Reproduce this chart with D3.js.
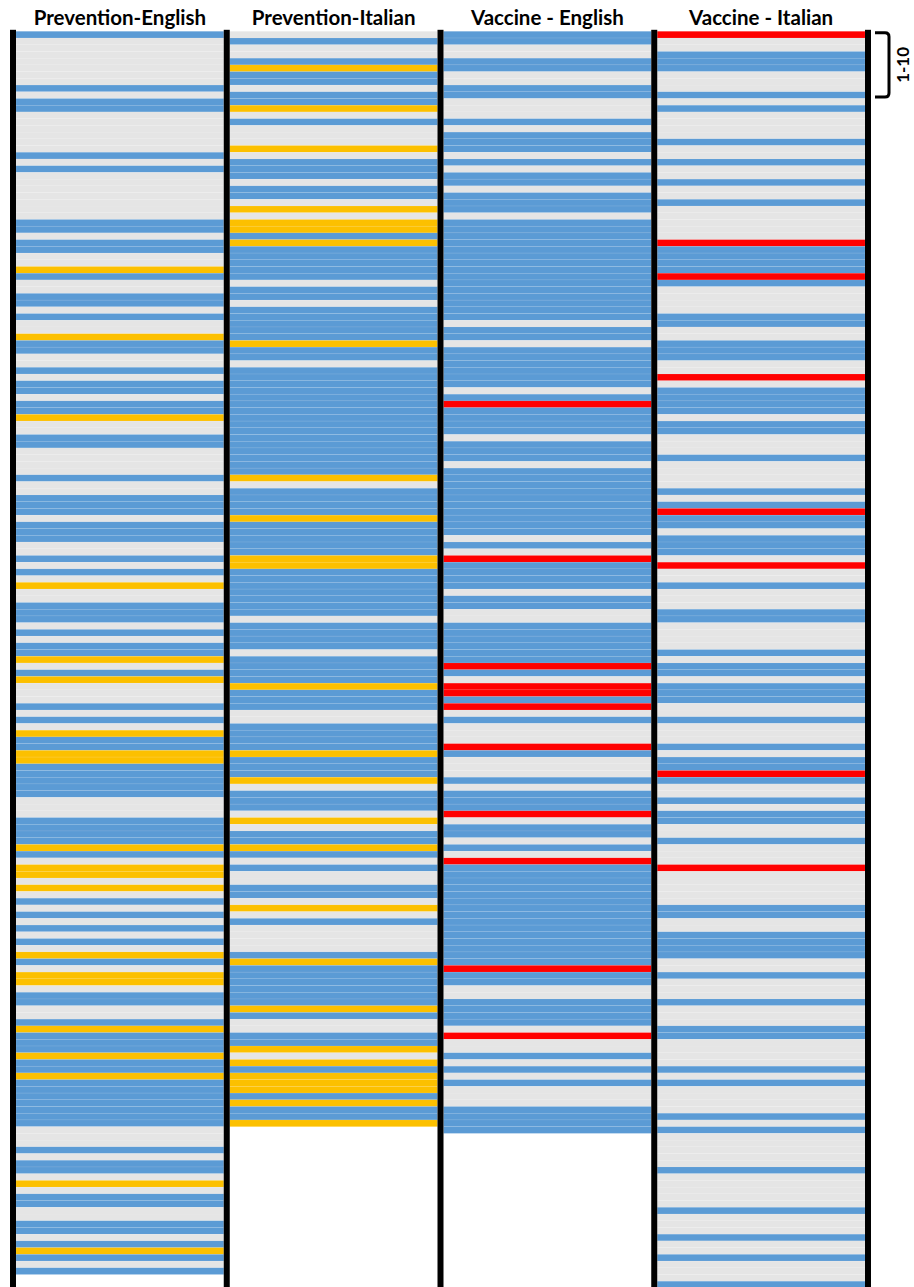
<!DOCTYPE html>
<html>
<head>
<meta charset="utf-8">
<script src="https://cdn.jsdelivr.net/npm/d3@7"></script>
<style>
  body { margin: 0; background: #fff; }
  svg { display: block; }
</style>
</head>
<body>
<div class="stripes"></div>
<script>
// one letter per row, top to bottom: g = grey, b = blue, y = yellow, r = red
const columnTitles = ["Prevention-English", "Prevention-Italian", "Vaccine - English", "Vaccine - Italian"];
const categoryCodes = ["g", "b", "y", "r"];

const preventionEnglish = [
  "bgggggggbg", "bbggggggbg", "bgggggggbb", "gbbggybggb", "bgbggybbgg",
  "bgbbgbbygg", "bbggggbggb", "bbgbbbggbg", "bgyggbbbgb", "gbbygbyggg",
  "bgbgybbyyb", "bbbbgggbbb", "bybgyygygb", "gbgbgbgybg", "yygbbggbyb",
  "bbybbybbbb", "bbbgggbgbb", "gygbbggbbg", "bybgb"
].join("");

const preventionItalian = [
  "gbggbybbgb", "bygbgggygb", "bbgbbgygyy", "bybbbbbgbb", "gbbbbbybbg",
  "bbbbbbbbbb", "bbbbbbygbb", "bbybbbbbyy", "bbbbbbbgbb", "bbgbbbbybb",
  "bggbbbbybb", "bygbbbgygb", "bybgbggbbg", "ygbggggbyb", "bbbbbybggb",
  "bygybyyyby", "bby"
].join("");

const vaccineEnglish = [
  "bbggbbggbb", "gggbgbbbgb", "gbbgbbbgbb", "bbbbbbbbbb", "bbbgbbgbbb",
  "bbbgbrbbbb", "gbbbgbbbbb", "bbbbbgbgrb", "bbbgbbggbb", "bbbbrbgrrb",
  "rgbgggrbgg", "gbgbbbrgbb", "gbgrbbbbbb", "bbbbbbbbbr", "bbggbbbbgr",
  "ggbgbgbggg", "bbbb"
].join("");

const vaccineItalian = [
  "rggbbbgggb", "gbggggbggb", "ggbggbgggg", "grbbbbrbgg", "ggbbggbbbg",
  "grgbbbbgbb", "gggbggggbg", "brbbgbbbgr", "ggbgggbbgg", "ggbgbbgbbb",
  "ggbgggbgbb", "rbggbgbbgg", "bgggrggggg", "bbggbbbbgg", "bgggbgggbb",
  "ggggbgbggg", "gbgbgggggb", "gggggbgggb", "ggbgggb"
].join("");

const bracketLabel = "1-10";
const bracketRows = 10;

document.addEventListener("DOMContentLoaded", drawStripes)

function drawStripes(){
  const width = 914,
        height = 1287,
        rowH = 6.72,
        top = 31.3,
        barW = 6;

  const columns = [preventionEnglish, preventionItalian, vaccineEnglish, vaccineItalian];
  const maxRows = d3.max(columns, c => c.length);

  const svg = d3.select(".stripes").append("svg")
    .attr("width", width)
    .attr("height", height)

  const x = d3.scaleBand()
    .domain(columnTitles)
    .range([13, 868])

  const y = d3.scaleLinear()
    .domain([0, maxRows])
    .range([top, top + maxRows * rowH])

  const color = d3.scaleOrdinal()
    .domain(categoryCodes)
    .range(["#e5e5e5", "#5b9bd5", "#fcc000", "#ff0000"])

  const cols = svg.selectAll("g.col")
    .data(columns.map((rows, i) => ({ title: columnTitles[i], rows: rows.split("") })))
    .enter()
    .append("g")
    .attr("class", "col")
    .attr("transform", d => `translate(${x(d.title) + barW / 2},0)`)

  cols.selectAll("rect")
    .data(d => d.rows)
    .enter()
    .append("rect")
    .attr("x", 0)
    .attr("width", x.bandwidth() - barW)
    .attr("y", (d, i) => y(i))
    .attr("height", (d, i) => y(i + 1) - y(i))
    .attr("fill", d => color(d))
    .attr("stroke", "#ffffff")
    .attr("stroke-opacity", 0.15)
    .attr("stroke-width", 0.5)

  // black dividers between columns, running to the bottom of the page
  const edges = columnTitles.map(t => x(t)).concat([x.range()[1]]);
  svg.selectAll("rect.bar")
    .data(edges)
    .enter()
    .append("rect")
    .attr("class", "bar")
    .attr("x", d => d - barW / 2)
    .attr("y", top - 1.5)
    .attr("width", barW)
    .attr("height", height - top + 2)
    .attr("fill", "#000")

  svg.selectAll("text.title")
    .data(columnTitles)
    .enter()
    .append("text")
    .attr("class", "title")
    .attr("x", d => x(d) + x.bandwidth() / 2)
    .attr("y", 25)
    .attr("text-anchor", "middle")
    .style("font-family", "Lato, 'Open Sans', sans-serif")
    .style("font-weight", "bold")
    .style("font-size", "20.5px")
    .text(d => d)

  // bracket marking the first ten rows
  const bx = x.range()[1] + 7,
        by0 = y(0) + 1.5,
        by1 = y(bracketRows) - 1.5,
        r = 4;
  svg.append("path")
    .attr("d", `M${bx},${by0} H${bx + 14 - r} Q${bx + 14},${by0} ${bx + 14},${by0 + r} V${by1 - r} Q${bx + 14},${by1} ${bx + 14 - r},${by1} H${bx}`)
    .attr("fill", "none")
    .attr("stroke", "#000")
    .attr("stroke-width", 3)

  svg.append("text")
    .attr("transform", `translate(${bx + 34},${(by0 + by1) / 2}) rotate(-90)`)
    .attr("text-anchor", "middle")
    .style("font-family", "Lato, 'Open Sans', sans-serif")
    .style("font-weight", "bold")
    .style("font-size", "17px")
    .text(bracketLabel)
}
</script>
</body>
</html>
